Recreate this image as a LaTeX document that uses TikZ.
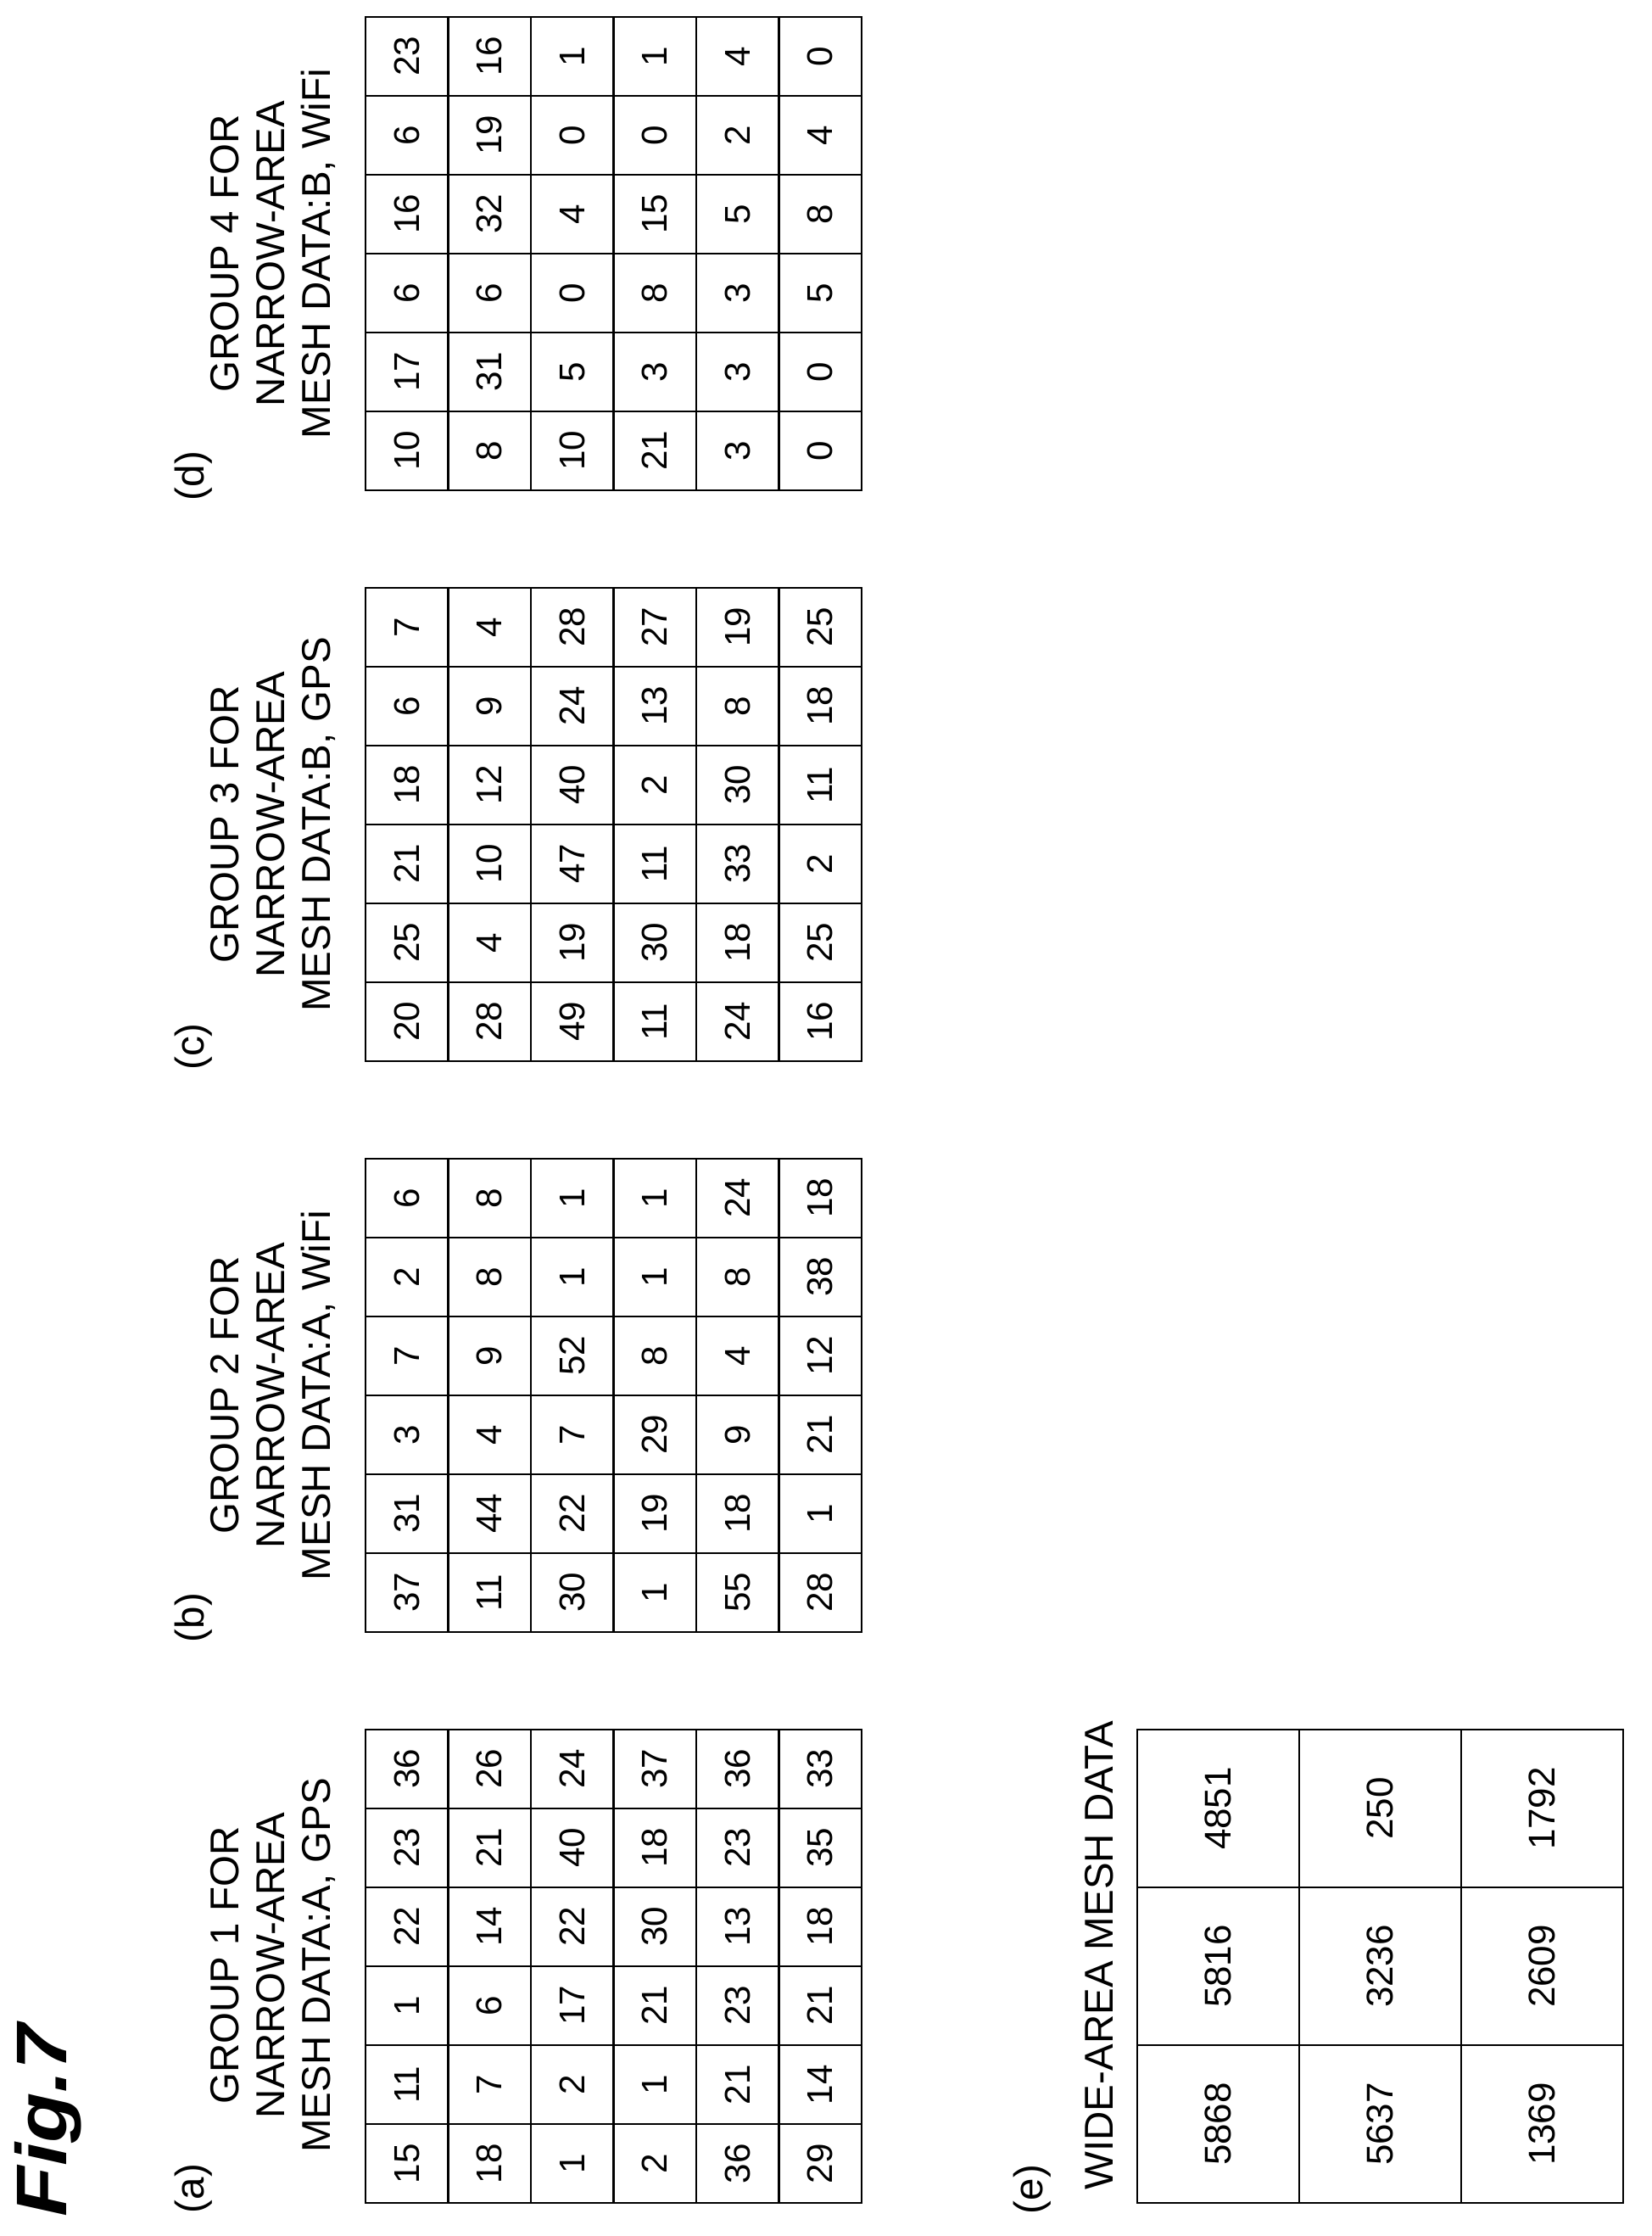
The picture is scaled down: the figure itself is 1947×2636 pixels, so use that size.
\documentclass[tikz,border=0pt]{standalone}
\usepackage{fontspec}
\setmainfont{Liberation Sans}
\usetikzlibrary{positioning}

\tikzset{
    cell/.style={draw,line width=0.8pt,rotate=90,inner sep=0pt,minimum width=0.93cm,minimum height=0.975cm,font=\fontsize{12}{13}\selectfont},
    widecell/.style={cell,minimum width=1.86cm,minimum height=1.91cm,font=\fontsize{12.5}{14}\selectfont},
    grouptitle/.style={rotate=90,align=center,inner sep=0pt,font=\fontsize{13.5}{15.4}\selectfont},
    panel/.style={rotate=90,inner sep=0pt,font=\fontsize{13.5}{15}\selectfont}
}

\begin{document}
\begin{tikzpicture}[x=0.01cm,y=-0.01cm]

    \useasboundingbox (0,0) rectangle (1947,2636);

    %%%%%%%%%%%%%%%%%%%%%%%%%%%%%%%%%%%%%%%%%%%%%%%%%%%%%%

    % figure number
    \node[rotate=90,inner sep=0pt,font=\fontsize{24}{26}\bfseries\itshape] (fig) at (57,2500) {\scalebox{1.15}[1]{Fig.7}};

    %%%%%%%%%%%%%%%%%%%%%%%%%%%%%%%%%%%%%%%%%%%%%%%%%%%%%%

    % group 1 (a)
    \node[panel] (pa) at (228,2580) {(a)};
    \node[grouptitle] (ta) at (322,2317) {GROUP 1 FOR\\NARROW-AREA\\MESH DATA:A, GPS};
    \foreach \row [count=\r] in {{15,11,1,22,23,36},{18,7,6,14,21,26},{1,2,17,22,40,24},{2,1,21,30,18,37},{36,21,23,13,23,36},{29,14,21,18,35,33}}
        \foreach \v [count=\c] in \row
            \node[cell] (a-\r-\c) at ({382.25+97.5*\r},{2643.5-93*\c}) {\v};

    %%%%%%%%%%%%%%%%%%%%%%%%%%%%%%%%%%%%%%%%%%%%%%%%%%%%%%

    % group 2 (b)
    \node[panel] (pb) at (228,1907) {(b)};
    \node[grouptitle] (tb) at (322,1645) {GROUP 2 FOR\\NARROW-AREA\\MESH DATA:A, WiFi};
    \foreach \row [count=\r] in {{37,31,3,7,2,6},{11,44,4,9,8,8},{30,22,7,52,1,1},{1,19,29,8,1,1},{55,18,9,4,8,24},{28,1,21,12,38,18}}
        \foreach \v [count=\c] in \row
            \node[cell] (b-\r-\c) at ({382.25+97.5*\r},{1970.5-93*\c}) {\v};

    %%%%%%%%%%%%%%%%%%%%%%%%%%%%%%%%%%%%%%%%%%%%%%%%%%%%%%

    % group 3 (c)
    \node[panel] (pc) at (228,1234) {(c)};
    \node[grouptitle] (tc) at (322,972) {GROUP 3 FOR\\NARROW-AREA\\MESH DATA:B, GPS};
    \foreach \row [count=\r] in {{20,25,21,18,6,7},{28,4,10,12,9,4},{49,19,47,40,24,28},{11,30,11,2,13,27},{24,18,33,30,8,19},{16,25,2,11,18,25}}
        \foreach \v [count=\c] in \row
            \node[cell] (c-\r-\c) at ({382.25+97.5*\r},{1297.5-93*\c}) {\v};

    %%%%%%%%%%%%%%%%%%%%%%%%%%%%%%%%%%%%%%%%%%%%%%%%%%%%%%

    % group 4 (d)
    \node[panel] (pd) at (228,561) {(d)};
    \node[grouptitle] (td) at (322,299) {GROUP 4 FOR\\NARROW-AREA\\MESH DATA:B, WiFi};
    \foreach \row [count=\r] in {{10,17,6,16,6,23},{8,31,6,32,19,16},{10,5,0,4,0,1},{21,3,8,15,0,1},{3,3,3,5,2,4},{0,0,5,8,4,0}}
        \foreach \v [count=\c] in \row
            \node[cell] (d-\r-\c) at ({382.25+97.5*\r},{624.5-93*\c}) {\v};

    %%%%%%%%%%%%%%%%%%%%%%%%%%%%%%%%%%%%%%%%%%%%%%%%%%%%%%

    % wide-area mesh (e)
    \node[panel] (pe) at (1217,2581) {(e)};
    \node[panel,anchor=west] (te) at (1296,2582) {WIDE-AREA MESH DATA};
    \foreach \row [count=\r] in {{5868,5816,4851},{5637,3236,250},{1369,2609,1792}}
        \foreach \v [count=\c] in \row
            \node[widecell] (e-\r-\c) at ({1245.5+191*\r},{2690-186*\c}) {\v};

\end{tikzpicture}
\end{document}
